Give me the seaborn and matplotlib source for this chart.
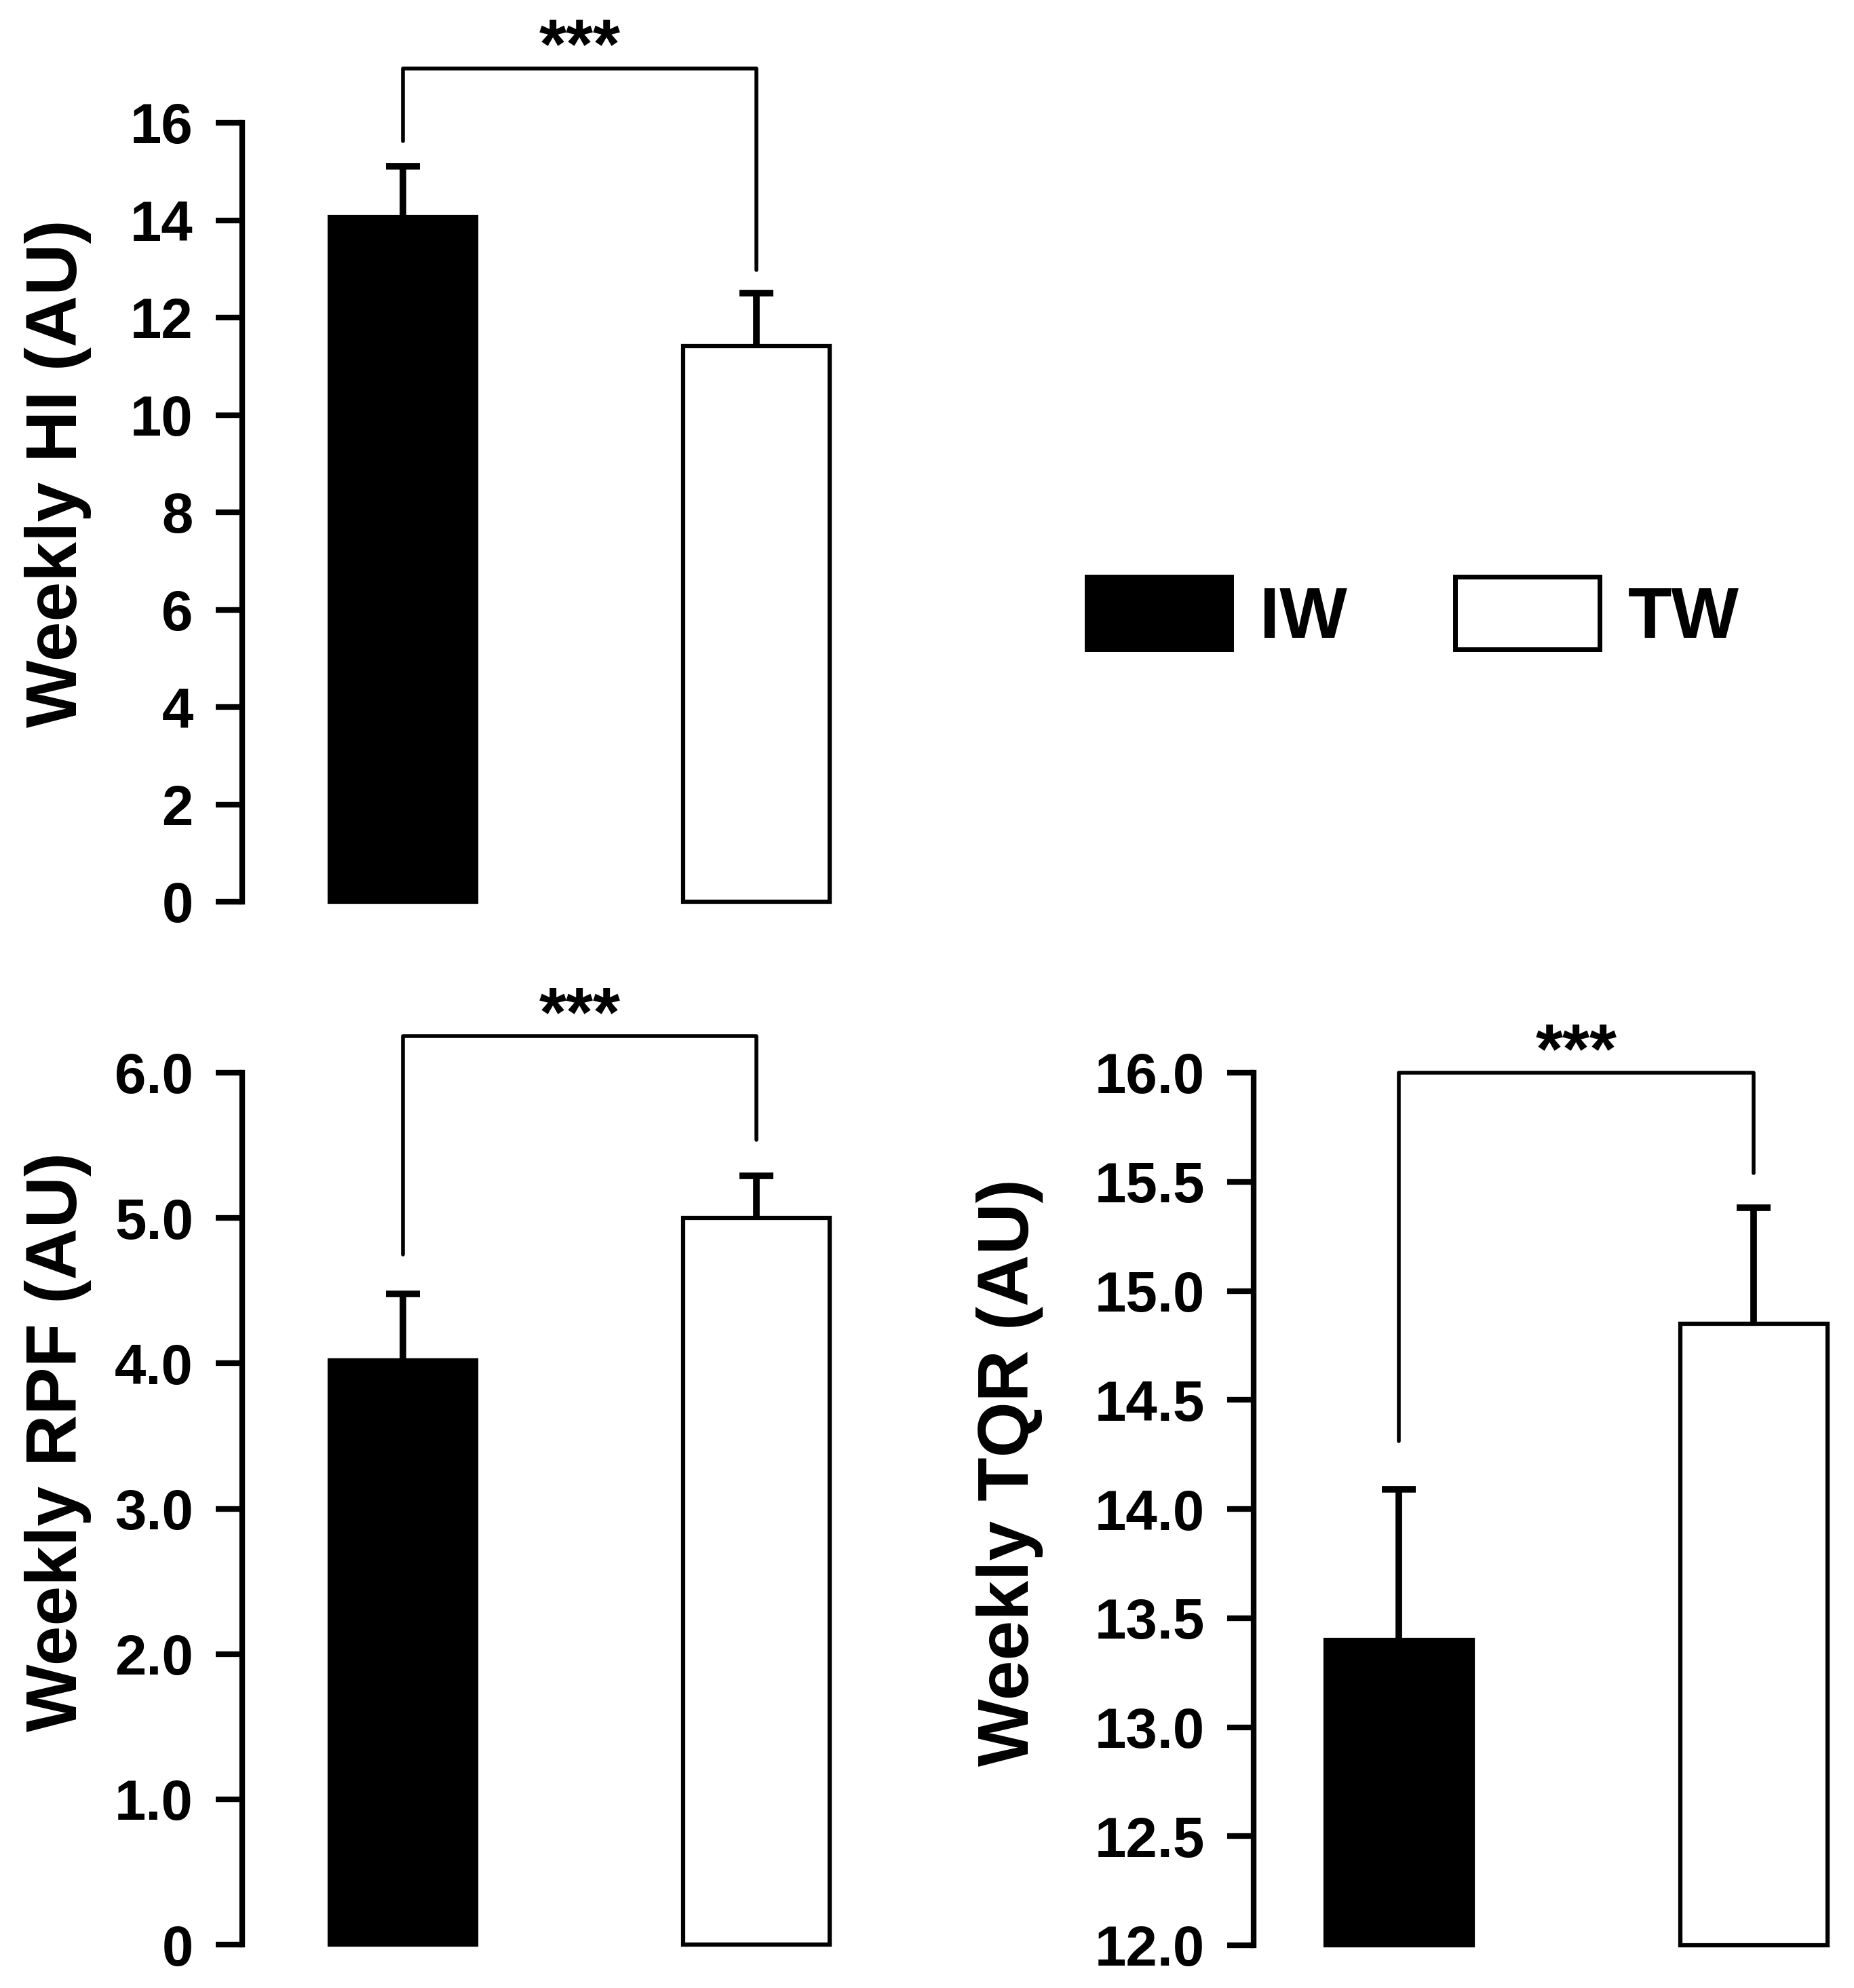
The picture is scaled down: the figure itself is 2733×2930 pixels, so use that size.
import matplotlib
matplotlib.use("Agg")
import matplotlib.pyplot as plt
from matplotlib.patches import Patch
import seaborn as sns
import pandas as pd

# data
groups = ["IW", "TW"]
colors = ["black", "white"]

hi_mean = [14.06, 11.42]
hi_err = [1.05, 1.08]
rpf_mean = [4.02, 5.00]
rpf_err = [0.46, 0.29]
tqr_mean = [13.40, 14.85]
tqr_err = [0.69, 0.53]

hi_ticks = [0, 2, 4, 6, 8, 10, 12, 14, 16]
hi_ticklabels = ["0", "2", "4", "6", "8", "10", "12", "14", "16"]
rpf_ticks = [0, 1, 2, 3, 4, 5, 6]
rpf_ticklabels = ["0", "1.0", "2.0", "3.0", "4.0", "5.0", "6.0"]
tqr_ticks = [12.0, 12.5, 13.0, 13.5, 14.0, 14.5, 15.0, 15.5, 16.0]
tqr_ticklabels = ["12.0", "12.5", "13.0", "13.5", "14.0", "14.5", "15.0", "15.5", "16.0"]

# significance brackets: (top, left leg end, right leg end)
hi_bracket = [17.12, 15.63, 12.97]
rpf_bracket = [6.25, 4.75, 5.54]
tqr_bracket = [16.0, 14.31, 15.54]

sns.set_style("ticks")
plt.rcParams["font.family"] = ["Liberation Sans", "DejaVu Sans"]
plt.rcParams["font.weight"] = "bold"
for key in ["text.color", "axes.labelcolor", "xtick.color", "ytick.color", "axes.edgecolor"]:
    plt.rcParams[key] = "black"

W, H = 2733, 2930
fig = plt.figure(figsize=(W / 100, H / 100), dpi=100)


def px_axes(left, right, top, bottom):
    return fig.add_axes([left / W, 1 - bottom / H, (right - left) / W, (bottom - top) / H])


def panel(ax, means, errs, ticks, ticklabels, ylim, xlim, bracket, ylabel, label_xy):
    df = pd.DataFrame({"group": groups, "value": means})
    sns.barplot(data=df, x="group", y="value", hue="group", palette=dict(zip(groups, colors)),
                edgecolor="black", linewidth=4.5, width=0.415, errorbar=None, legend=False,
                ax=ax, zorder=2)
    _, caps, _ = ax.errorbar(range(len(groups)), means, yerr=[[0] * len(errs), errs], fmt="none",
                             ecolor="black", elinewidth=7, capsize=18, capthick=7, zorder=3,
                             clip_on=False)
    caps[0].set_visible(False)  # upward-only error bars
    ax.set_ylim(*ylim)
    ax.set_xlim(*xlim)
    # bars start at the bottom of the axis
    for p in ax.patches:
        top = p.get_y() + p.get_height()
        p.set_y(ylim[0])
        p.set_height(top - ylim[0])
        p.set_clip_on(False)

    top, l_end, r_end = bracket
    ax.plot([0, 0, 1, 1], [l_end, top, top, r_end], color="black", lw=4, clip_on=False)
    ax.text(0.5, top, "***", ha="center", va="baseline", fontsize=74, fontweight="bold")

    ax.set_yticks(ticks)
    ax.set_yticklabels(ticklabels)
    ax.set_xticks([])
    ax.set_xlabel("")
    ax.set_ylabel(ylabel, fontsize=76, fontweight="bold")
    ax.yaxis.set_label_coords(*label_xy)
    sns.despine(ax=ax, bottom=True)
    ax.spines["left"].set_linewidth(6)
    ax.tick_params(axis="y", direction="out", length=28, width=6, pad=24, labelsize=60)
    for t in ax.get_yticklabels():
        t.set_fontweight("bold")


ax1 = px_axes(357, 1271, 181, 1329)
panel(ax1, hi_mean, hi_err, hi_ticks, hi_ticklabels, (0, 16), (-0.455, 1.3),
      hi_bracket, "Weekly HI (AU)", (-0.243, 0.55))

ax2 = px_axes(357, 1271, 1581, 2866)
panel(ax2, rpf_mean, rpf_err, rpf_ticks, rpf_ticklabels, (0, 6), (-0.455, 1.3),
      rpf_bracket, "Weekly RPF (AU)", (-0.243, 0.577))

ax3 = px_axes(1848, 2716, 1581, 2867)
panel(ax3, tqr_mean, tqr_err, tqr_ticks, tqr_ticklabels, (12, 16), (-0.41, 1.25),
      tqr_bracket, "Weekly TQR (AU)", (-0.357, 0.542))

handles = [Patch(facecolor=c, edgecolor="black", linewidth=5) for c in colors]
fig.legend(handles, groups, ncol=2, frameon=False, loc="center left",
           bbox_to_anchor=(1602 / W, 1 - 906 / H), borderaxespad=0, borderpad=0,
           handlelength=2.02, handleheight=1.18, handletextpad=0.4, columnspacing=1.5,
           prop={"size": 76, "weight": "bold"})

fig.savefig("out.png", dpi=100, facecolor="white")
